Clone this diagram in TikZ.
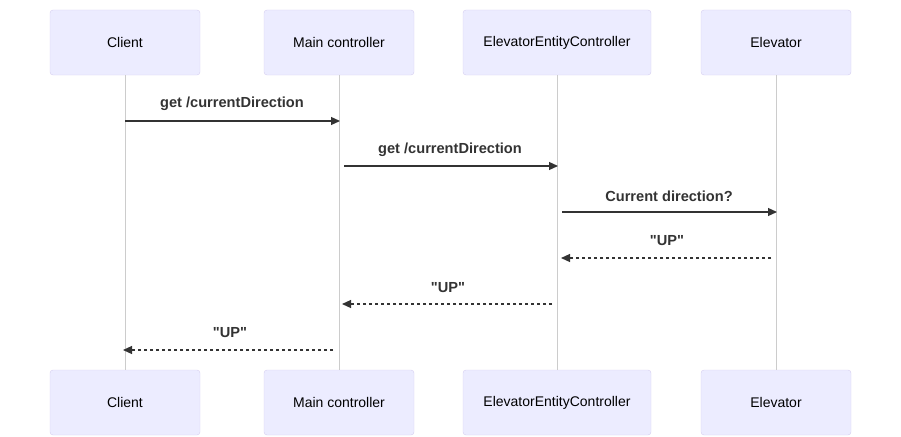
\documentclass[tikz,border=0pt]{standalone}
\usepackage{fontspec}
\setmainfont{Liberation Sans}[Ligatures=TeXOff]
\usetikzlibrary{arrows.meta}
\definecolor{actorfill}{RGB}{236,236,255}
\definecolor{actoredge}{RGB}{214,206,240}
\definecolor{lifegrey}{RGB}{204,204,204}
\definecolor{msgdark}{RGB}{51,51,51}

\begin{document}
\begin{tikzpicture}[
  x=1pt, y=-1pt,
  actor/.style  ={rounded corners=3pt, draw=actoredge, fill=actorfill,
                  minimum height=65pt, inner sep=0pt, font=\fontsize{14}{16}\selectfont},
  life/.style   ={draw=lifegrey, line width=0.8pt},
  msg/.style    ={font=\fontsize{14.6}{17}\selectfont\bfseries, text=msgdark, inner sep=0pt},
  call/.style   ={-{Triangle[length=9pt,width=8pt]}, line width=1.2pt, draw=msgdark},
  reply/.style  ={call, dash pattern=on 3pt off 3pt},
]
\useasboundingbox (0,0) rectangle (901,436);

% participants, top row
\node[actor, minimum width=150pt] (clientT) at (125,42.5)   {Client};
\node[actor, minimum width=150pt] (mainT)   at (339,42.5)   {Main controller};
\node[actor, minimum width=188pt] (entityT) at (557,42.5)   {ElevatorEntityController};
\node[actor, minimum width=150pt] (elevT)   at (776,42.5)   {Elevator};

% participants, bottom row
\node[actor, minimum width=150pt] (clientB) at (125,402.5)  {Client};
\node[actor, minimum width=150pt] (mainB)   at (339,402.5)  {Main controller};
\node[actor, minimum width=188pt] (entityB) at (557,402.5)  {ElevatorEntityController};
\node[actor, minimum width=150pt] (elevB)   at (776,402.5)  {Elevator};

% lifelines
\draw[life] (clientT.south) -- (clientB.north);
\draw[life] (mainT.south)   -- (mainB.north);
\draw[life] (entityT.south) -- (entityB.north);
\draw[life] (elevT.south)   -- (elevB.north);

% message end points
\coordinate (m1a) at (125,121); \coordinate (m1b) at (340,121);
\coordinate (m2a) at (344,166); \coordinate (m2b) at (558,166);
\coordinate (m3a) at (562,212); \coordinate (m3b) at (777,212);
\coordinate (m4a) at (771,258); \coordinate (m4b) at (561,258);
\coordinate (m5a) at (552,304); \coordinate (m5b) at (342,304);
\coordinate (m6a) at (333,350); \coordinate (m6b) at (123,350);

\draw[call]  (m1a) -- (m1b);
\draw[call]  (m2a) -- (m2b);
\draw[call]  (m3a) -- (m3b);
\draw[reply] (m4a) -- (m4b);
\draw[reply] (m5a) -- (m5b);
\draw[reply] (m6a) -- (m6b);

\node[msg] (l1) at (232,104) {get /currentDirection};
\node[msg] (l2) at (450,150) {get /currentDirection};
\node[msg] (l3) at (669,196) {Current direction?};
\node[msg] (l4) at (667,241) {"UP"};
\node[msg] (l5) at (448,288) {"UP"};
\node[msg] (l6) at (230,333) {"UP"};

\end{tikzpicture}
\end{document}
